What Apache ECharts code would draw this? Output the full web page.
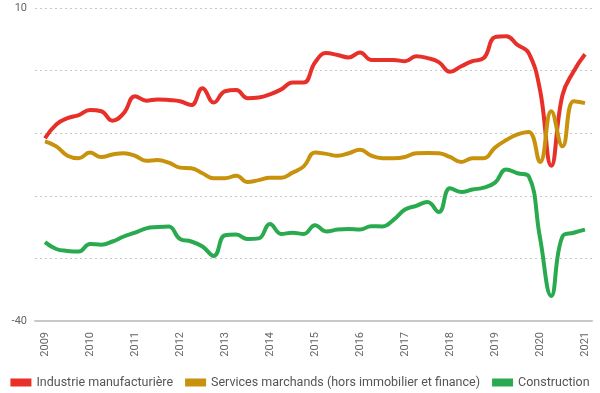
<!DOCTYPE html>
<html>
<head>
<meta charset="utf-8">
<script src="https://cdn.jsdelivr.net/npm/echarts@6/dist/echarts.min.js"></script>
<style>
html,body{margin:0;padding:0;background:#fff;}
#chart{width:600px;height:393px;}
</style>
</head>
<body>
<div id="chart"></div>
<script>
const quarters = [
  '2009T1','2009T2','2009T3','2009T4','2010T1','2010T2','2010T3','2010T4',
  '2011T1','2011T2','2011T3','2011T4','2012T1','2012T2','2012T3','2012T4',
  '2013T1','2013T2','2013T3','2013T4','2014T1','2014T2','2014T3','2014T4',
  '2015T1','2015T2','2015T3','2015T4','2016T1','2016T2','2016T3','2016T4',
  '2017T1','2017T2','2017T3','2017T4','2018T1','2018T2','2018T3','2018T4',
  '2019T1','2019T2','2019T3','2019T4','2020T1','2020T2','2020T3','2020T4',
  '2021T1'
];
const industrie = [
  -10.8, -8.6, -7.6, -7.1, -6.3, -6.5, -8.0, -6.8,
  -4.1, -4.8, -4.6, -4.7, -4.9, -5.5, -2.8, -5.1,
  -3.3, -3.1, -4.4, -4.3, -3.8, -3.0, -1.9, -1.9,
  1.3, 2.8, 2.5, 2.1, 2.9, 1.7, 1.7, 1.7,
  1.5, 2.3, 2.0, 1.35, -0.2, 0.7, 1.5, 2.0,
  5.35, 5.5, 4.1, 2.8, -3.1, -15.2, -3.9, -0.1,
  2.6
];
const services = [
  -11.3, -12.1, -13.6, -14.0, -13.1, -13.8, -13.4, -13.2,
  -13.6, -14.4, -14.3, -14.7, -15.5, -15.6, -16.4, -17.2,
  -17.2, -16.8, -17.8, -17.5, -17.1, -17.1, -16.3, -15.3,
  -13.1, -13.3, -13.6, -13.2, -12.65, -13.6, -14.0, -14.0,
  -13.8, -13.2, -13.15, -13.2, -13.8, -14.6, -14.0, -14.0,
  -12.3, -11.1, -10.2, -9.8, -14.6, -6.5, -12.1, -4.9,
  -5.2
];
const construction = [
  -27.4, -28.5, -28.8, -28.9, -27.7, -27.8, -27.3, -26.5,
  -25.9, -25.2, -25.0, -24.9, -26.9, -27.3, -28.1, -29.6,
  -26.3, -26.2, -26.9, -26.8, -24.5, -26.1, -25.9, -26.1,
  -24.7, -25.7, -25.4, -25.3, -25.4, -24.85, -24.9, -23.8,
  -22.2, -21.6, -21.0, -22.6, -18.8, -19.4, -19.0, -18.7,
  -17.9, -15.8, -16.4, -16.9, -26.7, -36.0, -26.5, -25.9,
  -25.4
];
const seriesNames = ['Industrie manufacturière', 'Services marchands (hors immobilier et finance)', 'Construction'];
const yTickLabels = [10, -40];
const yAxisTitle = "Excédent brut d'exploitation corrigé / valeur ajoutée";

const colors = ['#e8302a', '#c8920c', '#2aaa4e'];
const toPos = q => Number(q.slice(0, 4)) + (Number(q.slice(5)) - 1) / 4;
const pairs = arr => quarters.map((q, i) => [toPos(q), arr[i]]);

const chart = echarts.init(document.getElementById('chart'), null, {renderer: 'canvas'});
const font = 'Roboto, "Liberation Sans", sans-serif';
const mkSeries = (name, arr, c) => ({
  name, type: 'line', data: pairs(arr), smooth: 0.45, showSymbol: false,
  symbol: 'none', lineStyle: {width: 4, color: c}, itemStyle: {color: c}
});
chart.setOption({
  animation: false,
  textStyle: {fontFamily: font},
  color: colors,
  grid: {left: 35, right: 8, top: 8, bottom: 72, containLabel: false, outerBoundsMode: 'none'},
  legend: {
    top: 376, left: 'center', padding: 0, icon: 'rect', itemWidth: 21, itemHeight: 8, itemGap: 12,
    textStyle: {fontSize: 12.5, color: '#555', fontFamily: font},
    data: seriesNames
  },
  xAxis: {
    type: 'value', min: 2008.7778, max: 2021.1556, splitNumber: 12,
    axisLine: {show: true, onZero: false, lineStyle: {color: '#c8c8c8', width: 2}},
    axisTick: {show: false}, splitLine: {show: false},
    axisLabel: {
      rotate: 90, margin: 11, fontSize: 11, color: '#666',
      formatter: v => (Math.abs(v - Math.round(v)) < 1e-6 ? String(Math.round(v)) : '')
    }
  },
  yAxis: {
    type: 'value', min: -40, max: 10, interval: 10,
    name: yAxisTitle, nameLocation: 'middle', nameGap: 22,
    nameTextStyle: {fontSize: 11, color: '#666'},
    axisLine: {show: false}, axisTick: {show: false},
    splitLine: {show: true, lineStyle: {color: '#c8c8c8', type: [2, 3], width: 1}},
    axisLabel: {
      margin: 8, fontSize: 11, color: '#666',
      formatter: v => (yTickLabels.includes(v) ? String(v) : '')
    }
  },
  series: [
    mkSeries(seriesNames[0], industrie, colors[0]),
    mkSeries(seriesNames[1], services, colors[1]),
    mkSeries(seriesNames[2], construction, colors[2])
  ]
});
</script>
</body>
</html>
